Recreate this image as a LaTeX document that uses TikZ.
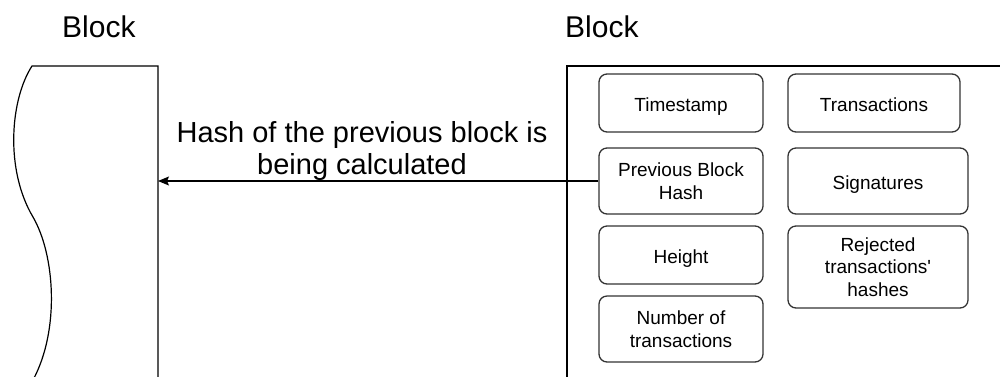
\documentclass[tikz,border=0pt]{standalone}
\usepackage{fontspec}
\setmainfont{Liberation Sans}
\newfontfamily\arialf{Liberation Sans}
\usetikzlibrary{arrows.meta}
\definecolor{boxline}{HTML}{333333}
\tikzset{
  field/.style={draw=boxline, line width=1.3pt, rounded corners=8pt, align=center,
    font=\arialf\fontsize{19}{22.5}\selectfont, inner sep=0pt},
  single/.style={text height=16pt, text depth=0pt},
  blockline/.style={draw=black, line width=1.2pt},
  title/.style={font=\arialf\fontsize{30}{34}\selectfont, anchor=base west, inner sep=0pt},
  lbl/.style={font=\arialf\fontsize{29}{31.5}\selectfont, align=center, inner sep=0pt}
}
\begin{document}
\begin{tikzpicture}[x=1pt,y=-1pt]
\useasboundingbox (0,0) rectangle (1000,376);
% titles
\node[title] (t1) at (62,37) {Block};
\node[title] (t2) at (565,37) {Block};
% left block
\draw[blockline] (33,380) .. controls (60,330) and (55,255) .. (33,217)
  .. controls (5,170) and (10,100) .. (32,66) -- (158,66) -- (158,380);
\coordinate (leftedge) at (158,181);
% right block
\draw[blockline] (567,380) -- (567,66) -- (1002,66);
% fields
\node[field, single, minimum width=164pt, minimum height=58pt] (ts) at (681,103) {Timestamp};
\node[field, single, minimum width=172pt, minimum height=58pt] (tx) at (874,103) {Transactions};
\node[field, minimum width=164pt, minimum height=66pt] (prev) at (681,181) {Previous Block\\Hash};
\node[field, single, minimum width=180pt, minimum height=66pt] (sig) at (878,181) {Signatures};
\node[field, single, minimum width=164pt, minimum height=58pt] (h) at (681,255) {Height};
\node[field, minimum width=180pt, minimum height=82pt] (rej) at (878,267) {Rejected\\transactions'\\hashes};
\node[field, minimum width=164pt, minimum height=66pt] (num) at (681,329) {Number of\\transactions};
% label
\node[lbl] (lab) at (362,151) {Hash of the previous block is\\being calculated};
% arrow
\draw[line width=1.2pt, -{Stealth[length=11pt,width=9pt,inset=2pt]}] (prev.west) -- (leftedge);
\end{tikzpicture}
\end{document}
